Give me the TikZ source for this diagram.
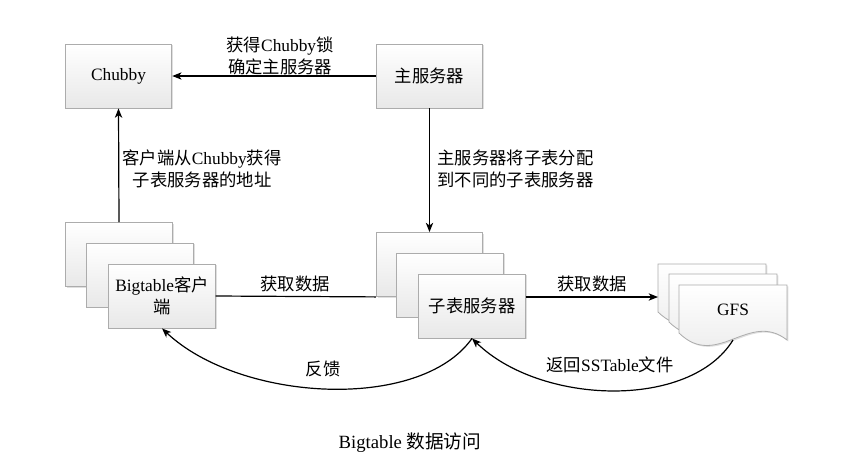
\documentclass[tikz,border=0pt]{standalone}
\usepackage{fontspec}
\setmainfont{Liberation Serif}
\newfontfamily\cjk{Noto Sans CJK SC}
\usepackage{pgf,tikz}
\usetikzlibrary{arrows.meta,shadows,calc}
\newcommand{\zh}[1]{{\cjk #1}}

\begin{document}
\begin{tikzpicture}[x=0.75pt,y=-0.75pt,>={Stealth[length=7pt,width=5.5pt,inset=2pt]},line width=0.9pt,
    font=\fontsize{13}{16.5}\selectfont,
    box/.style={draw=gray!65,line width=0.6pt,top color=white,bottom color=gray!18,
        minimum width=80pt,minimum height=48pt,inner sep=1pt,align=center,
        drop shadow={shadow xshift=1pt,shadow yshift=-1pt,opacity=0.25}},
    doc/.style={draw=gray!65,line width=0.6pt,top color=white,bottom color=gray!18,
        drop shadow={shadow xshift=1pt,shadow yshift=-1pt,opacity=0.25}},
    lbl/.style={inner sep=0pt,align=center}]
    \useasboundingbox (0,0) rectangle (852,472);
    % top row
    \node[box] (chubby) at (118.5,76) {Chubby};
    \node[box] (master) at (429.5,76) {\zh{主服务器}};
    % client stack
    \node[box] (cb) at (119,254.5) {};
    \node[box] (cm) at (140,275) {};
    \node[box] (cf) at (162,296) {Bigtable\zh{客户}\\\zh{端}};
    % tablet server stack
    \node[box] (tb) at (429.5,264.5) {};
    \node[box] (tm) at (450,285) {};
    \node[box] (tf) at (472,306) {\zh{子表服务器}};
    % GFS documents
    \foreach \l/\t in {658/264,669/274,679/285}
        \path[doc] (\l,\t) -- (\l+108,\t) -- (\l+108,\t+55)
            .. controls (\l+70,\t+25) and (\l+38,\t+85) .. (\l,\t+48) -- cycle;
    \node[lbl] (gfs) at (733,310) {GFS};
    \coordinate (gfsin) at (658,297);
    \coordinate (gfsout) at (733,340);
    % connectors
    \path [->](master.west) edge (chubby.east);
    \path [->](cb.north) edge (chubby.south);
    \path [->](master.south) edge (tb.north);
    \path [-](cf.east) edge (tb.south west);
    \path [->](tf.east |- gfsin) edge (gfsin);
    \draw [->](tf.south) .. controls (420,412) and (240,402) .. (cf.south);
    \draw [->](gfsout) .. controls (690,410) and (540,405) .. (tf.south);
    % labels
    \node[lbl] (l1) at (280,56) {\zh{获得}Chubby\zh{锁}\\\zh{确定主服务器}};
    \node[lbl] (l2) at (202,169) {\zh{客户端从}Chubby\zh{获得}\\\zh{子表服务器的地址}};
    \node[lbl,anchor=west,align=left] (l3) at (437,169) {\zh{主服务器将子表分配}\\\zh{到不同的子表服务器}};
    \node[lbl] (l4) at (295,284) {\zh{获取数据}};
    \node[lbl] (l5) at (592,284) {\zh{获取数据}};
    \node[lbl] (l6) at (323,369) {\zh{反馈}};
    \node[lbl] (l7) at (610,365) {\zh{返回}SSTable\zh{文件}};
    \node[lbl,font=\fontsize{14}{16}\selectfont] (cap) at (410,443) {Bigtable \zh{数据访问}};
\end{tikzpicture}
\end{document}
